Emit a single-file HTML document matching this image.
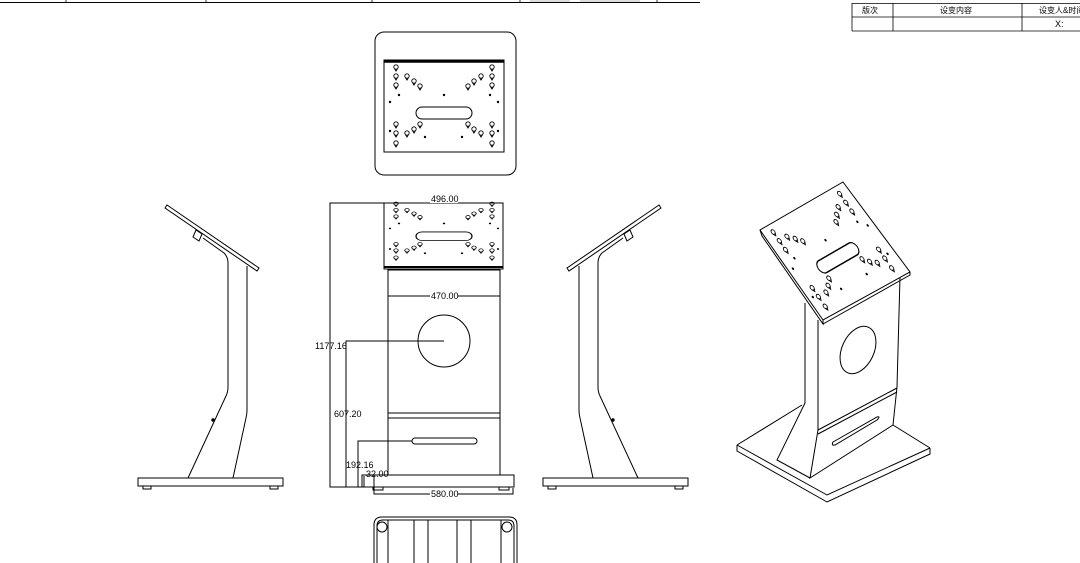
<!DOCTYPE html>
<html><head><meta charset="utf-8"><style>
html,body{margin:0;padding:0;background:#fff;}
svg{display:block;}
text{font-family:"Liberation Sans Narrow","Liberation Sans",sans-serif;font-size:9px;fill:#000;}
.c{font-family:"Liberation Sans","Noto Sans CJK SC",sans-serif;font-size:8px;}
</style></head><body>
<svg width="1080" height="563" viewBox="0 0 1080 563" xmlns="http://www.w3.org/2000/svg" fill="none" stroke="#000" stroke-width="1">
<defs>
<g id="k"><circle cx="0" cy="0" r="2.2" stroke-width="0.9"/><path d="M-1.5,1.6 L0,4 L1.5,1.6" stroke-width="0.9"/></g>
<g id="pat">
<use href="#k" x="396" y="67"/><use href="#k" x="396" y="76"/><use href="#k" x="396" y="85"/>
<use href="#k" x="407" y="76"/><use href="#k" x="414" y="81"/><use href="#k" x="420" y="86"/>
<use href="#k" x="492" y="67"/><use href="#k" x="492" y="76"/><use href="#k" x="492" y="85"/>
<use href="#k" x="481" y="76"/><use href="#k" x="474" y="81"/><use href="#k" x="468" y="86"/>
<use href="#k" x="396" y="124"/><use href="#k" x="396" y="133"/><use href="#k" x="396" y="143"/>
<use href="#k" x="407" y="133"/><use href="#k" x="414" y="129"/><use href="#k" x="420" y="124"/>
<use href="#k" x="492" y="124"/><use href="#k" x="492" y="133"/><use href="#k" x="492" y="143"/>
<use href="#k" x="481" y="133"/><use href="#k" x="474" y="129"/><use href="#k" x="468" y="124"/>
<g fill="#000" stroke="none">
<circle cx="399" cy="95" r="1.2"/><circle cx="444" cy="95" r="1.2"/><circle cx="490" cy="95" r="1.2"/>
<circle cx="390" cy="102" r="1.2"/><circle cx="498" cy="102" r="1.2"/>
<circle cx="390" cy="131" r="1.2"/><circle cx="498" cy="131" r="1.2"/>
<circle cx="425" cy="137" r="1.2"/><circle cx="462" cy="137" r="1.2"/>
</g>
<rect x="416" y="107" width="56" height="12" rx="6"/>
</g>
<g id="side">
<path d="M167,205 L259,268 L257,271 L165,208 Z"/>
<path d="M196,230 L202,234 L199,241 L193,237 Z"/>
<path d="M203,238 L224,253 Q228,257 228,263 L228,387 Q228,392 226,396 L188,478"/>
<path d="M247,266 L247,410 Q247,414 246,418 L233,478"/>
<circle cx="213" cy="420" r="1.2" fill="#000"/>
<rect x="138" y="478" width="145" height="8"/>
<rect x="143" y="486" width="8" height="3"/><rect x="270" y="486" width="8" height="3"/>
</g>
</defs>

<!-- top strip -->
<line x1="0" y1="2.5" x2="700" y2="2.5"/>
<g stroke-width="0.8"><line x1="66" y1="0" x2="66" y2="3"/><line x1="206" y1="0" x2="206" y2="3"/><line x1="372" y1="0" x2="372" y2="3"/><line x1="520" y1="0" x2="520" y2="3"/><line x1="657" y1="0" x2="657" y2="3"/></g>
<g stroke="#bbb" stroke-width="1"><line x1="530" y1="1" x2="570" y2="1"/><line x1="580" y1="1" x2="640" y2="1"/></g>

<!-- table -->
<g stroke-width="0.8">
<line x1="852" y1="3.5" x2="1080" y2="3.5"/><line x1="852" y1="17" x2="1080" y2="17"/><line x1="852" y1="31" x2="1080" y2="31"/>
<line x1="852" y1="3" x2="852" y2="31"/><line x1="893" y1="3" x2="893" y2="31"/><line x1="1022" y1="3" x2="1022" y2="31"/>
</g>
<g stroke="none"><text class="c" x="862" y="13">版次</text><text class="c" x="940" y="13">设变内容</text><text class="c" x="1039" y="13">设变人&amp;时间</text><text x="1055" y="27" fill="#666">X:</text></g>

<!-- top view -->
<rect x="375" y="32" width="141" height="143" rx="9"/>
<rect x="384" y="60" width="120" height="92"/>
<line x1="384" y1="61.5" x2="504" y2="61.5" stroke-width="2.5"/>
<use href="#pat"/>

<!-- front view -->
<rect x="384" y="203" width="119" height="66"/>
<line x1="384" y1="267" x2="503" y2="267" stroke-width="2"/>
<g transform="translate(0,156) scale(1,0.71)" stroke-width="1.2"><use href="#pat"/></g>
<rect x="388" y="270" width="112" height="205"/>
<line x1="388" y1="296" x2="500" y2="296"/>
<circle cx="444" cy="341" r="26"/>
<line x1="388" y1="413" x2="500" y2="413"/><line x1="388" y1="418" x2="500" y2="418"/>
<rect x="412" y="438" width="65" height="6" rx="3"/>
<rect x="362" y="475" width="152" height="12"/>
<rect x="373" y="487" width="10" height="3"/><rect x="499" y="487" width="10" height="3"/>
<!-- dims -->
<g stroke-width="1">
<polyline points="384,203 330,203 330,487 388,487"/>
<polyline points="444,341 346,341 346,487"/>
<polyline points="412,441 358,441 358,487"/>
<polyline points="364,487 364,476"/>
<polyline points="374,475 374,494 513,494 513,488"/>
</g>
<g stroke="none" style="font-size:8.5px">
<rect x="430" y="194" width="28" height="9" fill="#fff"/><text x="431" y="202">496.00</text>
<rect x="430" y="291" width="28" height="9" fill="#fff"/><text x="431" y="299">470.00</text>
<rect x="430" y="489" width="28" height="9" fill="#fff"/><text x="431" y="497">580.00</text>
<text x="315" y="349">1177.16</text>
<text x="334" y="417">607.20</text>
<text x="346" y="468">192.16</text>
<text x="366" y="477">32.00</text>
</g>

<!-- bottom partial -->
<path d="M374,563 L374,525 Q374,517 382,517 L509,517 Q517,517 517,525 L517,563"/>
<path d="M377,563 L377,526 Q377,520 383,520 L508,520 Q514,520 514,526 L514,563"/>
<circle cx="382" cy="527" r="5"/><circle cx="507" cy="527" r="5"/>
<line x1="388" y1="520" x2="388" y2="563"/><line x1="414" y1="520" x2="414" y2="563"/><line x1="428" y1="520" x2="428" y2="563"/>
<line x1="457" y1="520" x2="457" y2="563"/><line x1="471" y1="520" x2="471" y2="563"/><line x1="501" y1="520" x2="501" y2="563"/>

<!-- side views -->
<use href="#side"/>
<g transform="translate(826,0) scale(-1,1)"><use href="#side"/></g>

<!-- isometric -->
<path d="M737,445 L802,405"/>
<path d="M930,448 L893,425"/>
<path d="M737,445 L737,451 L827,502 L930,454 L930,448"/>
<path d="M737,445 L827,495 L930,448"/>
<path d="M805,303 L805,403 L777,460 L810,478"/>
<path d="M818,320 L818,430 L810,478 L893,425 L897,387 L900,277"/>
<path d="M818,430 L897,388"/><path d="M818,434 L897,392"/>
<path d="M833,442 L877,417 Q881,416 877,420 L835,445 Q831,446 833,442 Z"/>
<ellipse cx="858" cy="350" rx="16" ry="25" transform="rotate(25 858 350)"/>
<path d="M843,182 L910,272 L823,320 L760,230 Z" fill="#fff"/>
<path d="M760,230 L762,236 L823,324 L823,320"/>
<path d="M823,324 L910,275 L910,272"/>
<g transform="matrix(0.692,-0.4,0.685,0.978,453.2,324.9)" stroke-width="1.2">
<use href="#pat"/>
</g>
</svg>
</body></html>
